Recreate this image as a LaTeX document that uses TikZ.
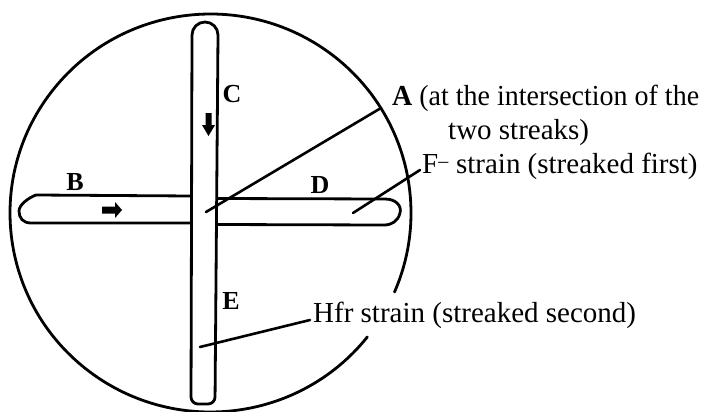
\documentclass[tikz,border=0pt]{standalone}
\usepackage{fontspec}
\usepackage{graphicx}
\setmainfont{Liberation Serif}
\tikzset{
  outline/.style={line width=2.8pt, line cap=round, line join=round},
  leader/.style={line width=2.6pt, line cap=round},
  caption/.style={inner sep=0pt, anchor=base west, font=\fontsize{29}{34}\selectfont},
  letter/.style={inner sep=0pt, font=\fontsize{26}{30}\selectfont\bfseries},
  arrowfill/.style={fill=black, draw=none}
}
\begin{document}
\begin{tikzpicture}[x=1pt,y=-1pt]
\useasboundingbox (0,0) rectangle (707,412);
% plate (with a gap behind the Hfr text)
\draw[outline] (210.5,213) ++(38.5:200.5 and 199)
  arc[start angle=38.5, end angle=383.4, x radius=200.5, y radius=199];
% vertical streak (Hfr)
\draw[outline] (192,35) arc[start angle=180, end angle=360, radius=13]
  [rounded corners=7] -- (215,404) -- (191,404) -- (192,35);
% horizontal streak (F-), left part
\draw[outline] (191.5,196) -- (36,195)
  .. controls (28,198) and (19,205) .. (19,211)
  .. controls (19,218) and (23,223) .. (31,223) -- (191.5,223);
% horizontal streak, right part
\draw[outline] (217,198.5) -- (385,199)
  .. controls (396,199) and (402,206) .. (400,213)
  .. controls (398,221) and (392,225) .. (384,225) -- (216.5,224.5);
% direction arrows
\fill[arrowfill] (102,206.5) -- (115,206.5) -- (115,202) -- (122,210)
  -- (115,218) -- (115,213.5) -- (102,213.5) -- cycle;
\fill[arrowfill] (205.5,113) -- (211.5,113) -- (211.5,125) -- (215,125)
  -- (208.5,136) -- (202,125) -- (205.5,125) -- cycle;
% letters
\node[letter] (B) at (75,182) {B};
\node[letter] (C) at (232,94) {C};
\node[letter] (D) at (320,185) {D};
\node[letter] (E) at (231,301) {E};
% captions
\node[caption] (tA) at (392,106) {\scalebox{0.965}[1]{\textbf{A} (at the intersection of the}};
\node[caption] (tA2) at (448,139) {two streaks)};
\node[caption] (tF) at (422,173) {F\textsuperscript{\raisebox{-0.35ex}{\fontsize{20}{20}\selectfont –}} strain (streaked first)};
\node[caption] (tH) at (313,322) {Hfr strain (streaked second)};
% leader lines
\coordinate (pA) at (206,212);
\coordinate (pF) at (353,213);
\coordinate (pH) at (200,347);
\draw[leader] (pA) -- ([xshift=-11pt,yshift=-2pt]tA.base west);
\draw[leader] (pF) -- ([xshift=-2pt,yshift=3pt]tF.base west);
\draw[leader] (pH) -- ([xshift=-3pt,yshift=2pt]tH.base west);
\end{tikzpicture}
\end{document}
